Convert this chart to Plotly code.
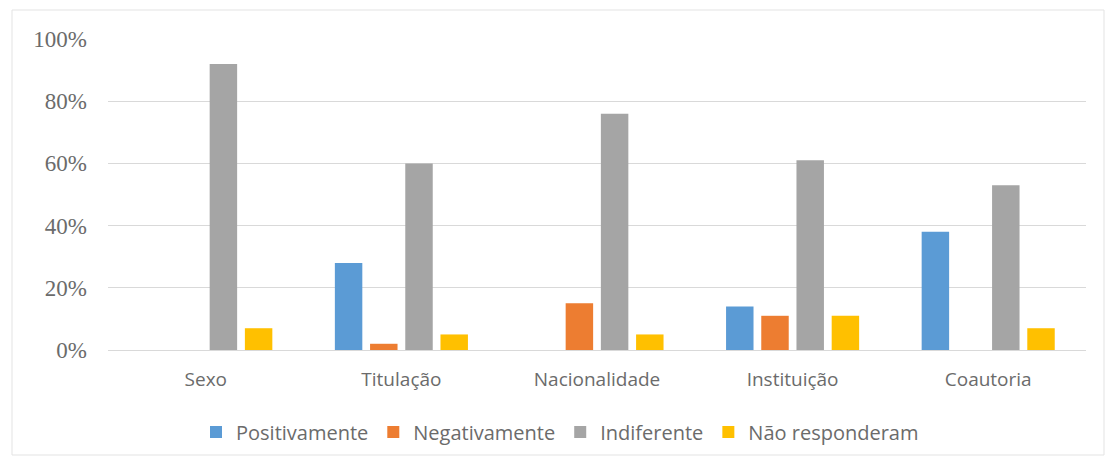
import plotly.graph_objects as go

categories = ["Sexo", "Titulação", "Nacionalidade", "Instituição", "Coautoria"]
positivamente = [0, 0.28, 0, 0.14, 0.38]
negativamente = [0, 0.02, 0.15, 0.11, 0]
indiferente = [0.92, 0.60, 0.76, 0.61, 0.53]
nao_responderam = [0.07, 0.05, 0.05, 0.11, 0.07]
series_names = ["Positivamente", "Negativamente", "Indiferente", "Não responderam"]
colors = ["#5B9BD5", "#ED7D31", "#A5A5A5", "#FFC000"]
y_ticks = [0, 0.2, 0.4, 0.6, 0.8, 1.0]
y_tick_labels = ["0%", "20%", "40%", "60%", "80%", "100%"]

fig = go.Figure()
for name, vals, c in zip(series_names, [positivamente, negativamente, indiferente, nao_responderam], colors):
    fig.add_trace(go.Bar(x=categories, y=vals, name=name, marker_color=c, marker_line_width=0))

L, R, T, B = 108, 20, 39, 114
W, H = 1106, 464
pw, ph = W - L - R, H - T - B

def px_x(x):
    return (x - L) / pw

def px_y(y):
    return (H - B - y) / ph

fig.update_layout(
    width=W, height=H,
    margin=dict(l=L, r=R, t=T, b=B),
    paper_bgcolor="white", plot_bgcolor="white",
    barmode="group", bargap=0.28, bargroupgap=0.22,
    font=dict(family="Open Sans", color="#595959", size=19),
    showlegend=True,
    legend=dict(orientation="h", x=px_x(560), xanchor="center", y=px_y(432), yanchor="middle",
                font=dict(family="Open Sans", size=20, color="#6b6b6b"),
                itemwidth=30, traceorder="normal"),
    xaxis=dict(showgrid=False, showline=True, linecolor="#D9D9D9", linewidth=1,
               ticks="", ticklabelstandoff=12,
               tickfont=dict(family="Open Sans", size=19, color="#6b6b6b")),
    yaxis=dict(range=[0, 1.0], tickvals=y_ticks, ticktext=y_tick_labels,
               showgrid=True, gridcolor="#D9D9D9", gridwidth=1, zeroline=False,
               tickfont=dict(family="Liberation Serif", size=23, color="#6b6b6b"),
               ticks="", ticklabelstandoff=20),
    shapes=[dict(type="rect", xref="paper", yref="paper",
                 x0=px_x(12), x1=px_x(1104), y0=px_y(455), y1=px_y(10),
                 line=dict(color="#E3E3E3", width=1), fillcolor="rgba(0,0,0,0)", layer="below")],
)
fig.write_html("out.html")
